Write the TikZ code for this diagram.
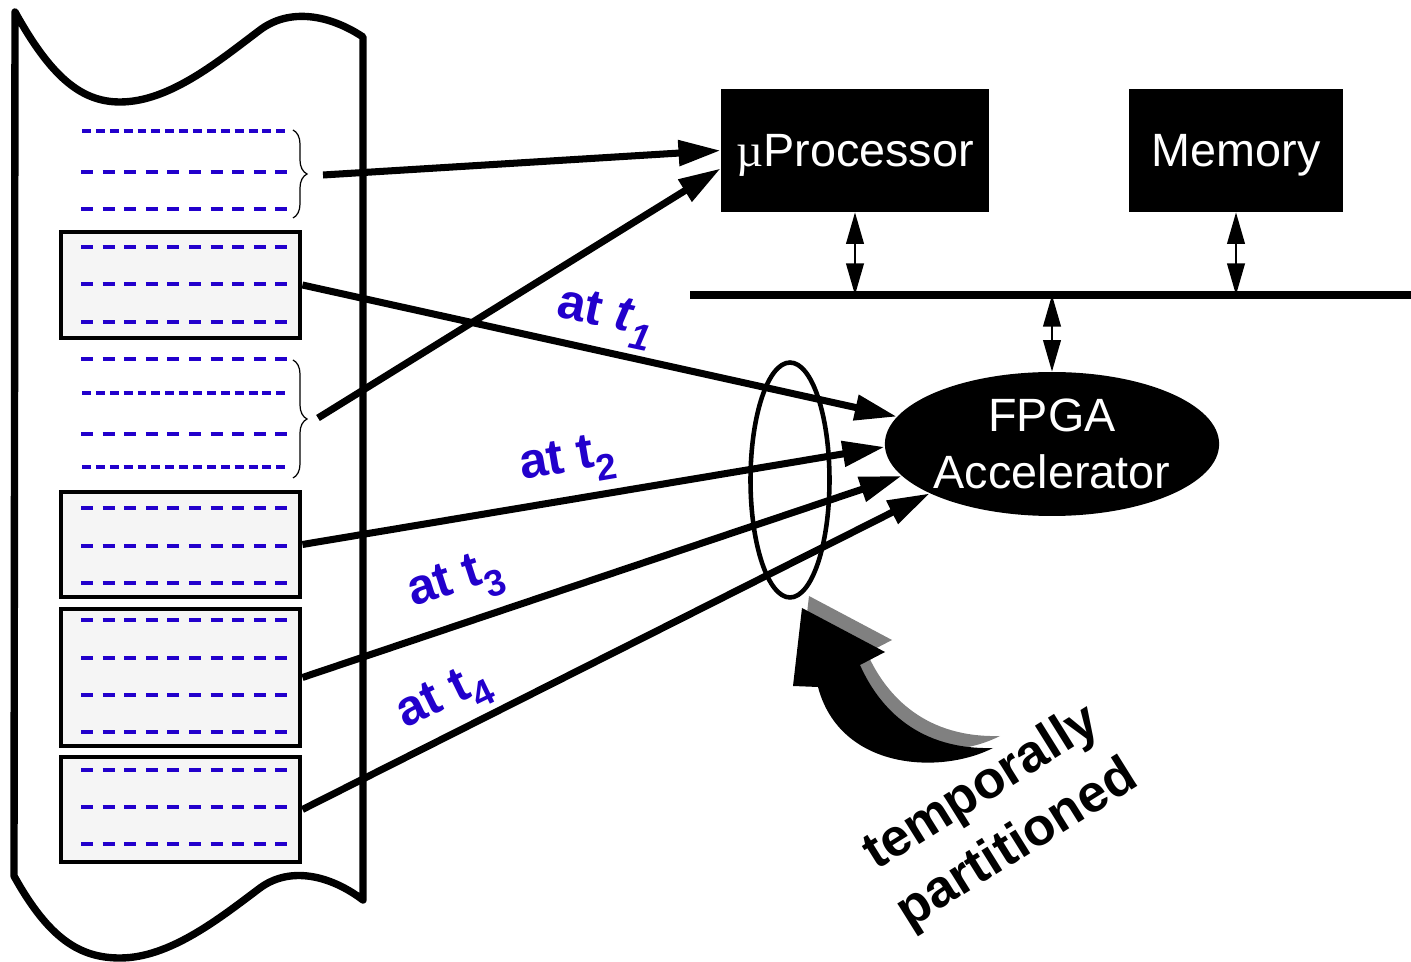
\documentclass[tikz,border=0pt]{standalone}
\usepackage{fontspec}
\setmainfont{Liberation Sans}
\newfontfamily\serifmu{Liberation Serif}
\usetikzlibrary{arrows.meta,shapes.geometric,decorations.pathreplacing}
\definecolor{dashblue}{RGB}{34,0,204}
\definecolor{boxgray}{RGB}{245,245,245}
\begin{document}
\begin{tikzpicture}[x=0.02cm,y=-0.02cm,
  scroll/.style={line width=4.2pt, line join=round},
  blockbox/.style={draw, line width=2.8pt, fill=boxgray, minimum width=4.78cm, inner sep=0pt},
  sparse/.style={dashblue, line width=2pt, dash pattern=on 6.8pt off 5.5pt},
  dense/.style={dashblue, line width=2pt, dash pattern=on 5.1pt off 2.8pt},
  unit/.style={fill=black, text=white, font=\fontsize{26.6}{32}\selectfont, inner sep=0pt, text depth=0pt},
  bigarrow/.style={line width=4pt, -{Triangle[length=24pt,width=14pt]}},
  busarrow/.style={line width=1.3pt, {Triangle[length=18pt,width=10pt]}-{Triangle[length=18pt,width=10pt]}},
  tlabel/.style={text=dashblue, font=\fontsize{28.5}{32}\selectfont\bfseries, inner sep=0pt},
  brc/.style={decorate, decoration={brace, amplitude=0.28cm}, line width=0.7pt}]
\useasboundingbox (0,0) rectangle (1411,962);

% scroll
\draw[scroll] (15,12) .. controls (50,75) and (80,102) .. (120,102)
  .. controls (170,102) and (220,60) .. (260,30)
  .. controls (290,7.5) and (330,15) .. (363,37) -- (363,900)
  .. controls (330,875) and (290,866) .. (260,888)
  .. controls (220,918) and (170,958) .. (120,958)
  .. controls (80,958) and (49,939) .. (14,876) -- cycle;

% blocks
\node[blockbox, minimum height=2.12cm] (b1) at (180.5,285) {};
\node[blockbox, minimum height=2.1cm] (b2) at (180.5,544.5) {};
\node[blockbox, minimum height=2.74cm] (b3) at (180.5,677.5) {};
\node[blockbox, minimum height=2.1cm] (b4) at (180.5,809.5) {};

\foreach \y in {131,393,467} \draw[dense] (82,\y) -- (288,\y);
\foreach \y in {172,209,247,284,322,359,434,508,546,583,620,658,695,732,770,807,844}
  \draw[sparse] (81,\y) -- (292,\y);

% braces
\draw[brc] (293,130) -- (293,218);
\draw[brc] (293,360) -- (293,478);
\coordinate (br1) at (323,175);
\coordinate (br2) at (318,418);

% units
\node[unit, minimum width=5.36cm, minimum height=2.46cm] (up) at (855,150.5) {{\serifmu µ}Processor};
\node[unit, minimum width=4.28cm, minimum height=2.46cm] (mem) at (1236,150.5) {Memory};
\node[unit, ellipse, minimum width=6.5cm, minimum height=2.88cm, align=center, text depth=] (fpga) at (1052,444) {FPGA\\Accelerator};

% bus
\coordinate (busL) at (690,295);
\coordinate (busR) at (1411,295);
\draw[line width=4.8pt] (busL) -- (busR);
\draw[busarrow] (up.south) -- (up.south |- busL);
\draw[busarrow] (mem.south) -- (mem.south |- busL);
\draw[busarrow] (fpga.north |- busL) -- (fpga.north);

% ring
\node[draw, ellipse, line width=2.6pt, minimum width=1.58cm, minimum height=4.7cm, inner sep=0pt] (ring) at (790,480) {};

% arrows
\draw[bigarrow] (br1) -- (up.west);
\draw[bigarrow] (br2) -- ([yshift=-0.36cm]up.west);
\draw[bigarrow] (b1.east) -- (fpga.170);
\draw[bigarrow] (b2.east) -- (fpga.181);
\draw[bigarrow] (b3.east) -- (fpga.192);
\draw[bigarrow] (b4.east) -- (fpga.202);

% labels
\node[tlabel, rotate=-12] (l1) at (605,318) {at \textit{t}\raisebox{-0.3em}{\fontsize{21}{22}\selectfont\textit{1}}};
\node[tlabel, rotate=9.6] (l2) at (568,463) {at t\raisebox{-0.3em}{\fontsize{21}{22}\selectfont 2}};
\node[tlabel, rotate=18] (l3) at (456,584) {at t\raisebox{-0.3em}{\fontsize{21}{22}\selectfont 3}};
\node[tlabel, rotate=26] (l4) at (445,700) {at t\raisebox{-0.3em}{\fontsize{21}{22}\selectfont 4}};

% curved arrow
\fill[gray, shift={(7,-12)}] (802,608) -- (885,652) -- (860,665)
  .. controls (880,710) and (920,750) .. (993,748)
  .. controls (940,775) and (840,770) .. (818,687) -- (793,686) -- cycle;
\fill[black] (802,608) -- (885,652) -- (860,665)
  .. controls (880,710) and (920,750) .. (993,748)
  .. controls (940,775) and (840,770) .. (818,687) -- (793,686) -- cycle;

\node[font=\fontsize{30}{38}\selectfont\bfseries, rotate=32, align=center, inner sep=0pt] (tp) at (1000,817) {temporally\\partitioned};
\end{tikzpicture}
\end{document}
